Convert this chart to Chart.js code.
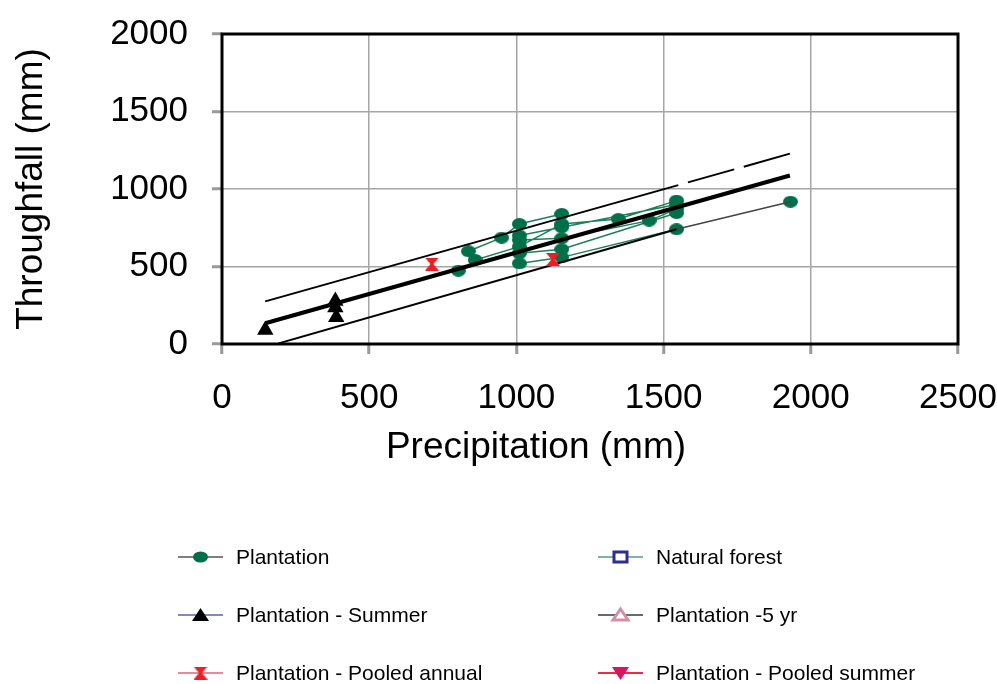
<!DOCTYPE html>
<html lang="en">
<head>
  <meta charset="UTF-8">
  <title>Throughfall vs Precipitation</title>
  <script src="https://cdn.jsdelivr.net/npm/chart.js"></script>
  <style>
    html, body { margin: 0; padding: 0; background: #fff; }
    #wrap { width: 997px; height: 684px; }
  </style>
</head>
<body>
  <div id="wrap"><canvas id="chart" width="997" height="684"></canvas></div>

  <script>
    // Plantation sites (null = break between sites)
    const plantationPrecip = [
      837, 950, 1010, 1154, null,
      860, 1010, 1154, 1346, 1544, null,
      1010, 1154, 1544, null,
      1010, 1154, 1451, 1544, null,
      1010, 1154, 1544, null,
      1010, 1154, 1544, null,
      803, null,
      1931
    ];
    const plantationThroughfall = [
      598, 686, 774, 839, null,
      542, 628, 774, 806, 925, null,
      700, 753, 900, null,
      671, 682, 796, 870, null,
      585, 611, 845, null,
      520, 559, 740, null,
      473, null,
      918
    ];

    // Plantation - Summer
    const summerPrecip = [147, 385, 385, 388];
    const summerThroughfall = [90, 277, 235, 173];

    // Plantation - Pooled annual
    const pooledPrecip = [713, 1124];
    const pooledThroughfall = [516, 546];

    // regression line and its bounds
    const fitPrecip = [147, 1929];
    const fitThroughfall = [134, 1087];
    const upperPrecip = [147, 1550, 1929];
    const upperThroughfall = [275, 1025, 1228];
    const lowerPrecip = [192, 1544, 1931];
    const lowerThroughfall = [4, 740, 918];

    const xTicks = [0, 500, 1000, 1500, 2000, 2500];
    const yTicks = [0, 500, 1000, 1500, 2000];

    const FONT = '"Liberation Sans", Arial, sans-serif';
    const GREEN = '#00704a';

    function pts(xs, ys) {
      return xs.map((x, i) => ({ x: x, y: ys[i] }));
    }

    // marker images
    function ellipseMarker(w, h, color) {
      const c = document.createElement('canvas');
      c.width = w; c.height = h;
      const g = c.getContext('2d');
      g.fillStyle = color;
      g.beginPath();
      g.ellipse(w / 2, h / 2, w / 2, h / 2, 0, 0, Math.PI * 2);
      g.fill();
      return c;
    }
    function hourglassMarker(w, h, color) {
      const c = document.createElement('canvas');
      c.width = w; c.height = h;
      const g = c.getContext('2d');
      g.fillStyle = color;
      g.beginPath();
      g.moveTo(0, 0); g.lineTo(w, 0); g.lineTo(w / 2 + 1.5, h / 2);
      g.lineTo(w, h); g.lineTo(0, h); g.lineTo(w / 2 - 1.5, h / 2);
      g.closePath();
      g.fill();
      return c;
    }

    const dotImg = ellipseMarker(15, 12, GREEN);
    const hourglassImg = hourglassMarker(14, 13, '#ee1c25');

    // legend drawn in two columns under the plot
    const legendPlugin = {
      id: 'sketchLegend',
      afterDraw(chart) {
        const ctx = chart.ctx;
        const cols = [178, 598];
        const rows = [557, 615, 673];
        const items = chart.data.datasets.filter(d => d.legend)
          .sort((a, b) => a.legend.slot - b.legend.slot);
        ctx.save();
        items.forEach((d, i) => {
          const x = cols[i % 2];
          const y = rows[Math.floor(i / 2)];
          ctx.strokeStyle = d.legend.line;
          ctx.lineWidth = 2;
          ctx.beginPath();
          ctx.moveTo(x, y); ctx.lineTo(x + 45, y);
          ctx.stroke();
          const mx = x + 22.5;
          const m = d.legend.marker;
          ctx.fillStyle = d.legend.color;
          ctx.strokeStyle = d.legend.color;
          ctx.lineWidth = 3;
          ctx.beginPath();
          if (m === 'ellipse') {
            ctx.ellipse(mx, y, 7.5, 5.5, 0, 0, Math.PI * 2);
            ctx.fill();
          } else if (m === 'square') {
            ctx.fillStyle = '#fff';
            ctx.rect(mx - 6.5, y - 5, 13, 10);
            ctx.fill(); ctx.stroke();
          } else if (m === 'triangle') {
            ctx.moveTo(mx, y - 7); ctx.lineTo(mx + 8.5, y + 6); ctx.lineTo(mx - 8.5, y + 6);
            ctx.closePath(); ctx.fill();
          } else if (m === 'openTriangle') {
            ctx.fillStyle = '#fff';
            ctx.moveTo(mx, y - 6); ctx.lineTo(mx + 7.5, y + 5); ctx.lineTo(mx - 7.5, y + 5);
            ctx.closePath(); ctx.fill(); ctx.stroke();
          } else if (m === 'hourglass') {
            ctx.drawImage(hourglassImg, mx - 7, y - 6.5);
          } else if (m === 'down') {
            ctx.moveTo(mx - 8.5, y - 6); ctx.lineTo(mx + 8.5, y - 6); ctx.lineTo(mx, y + 7);
            ctx.closePath(); ctx.fill();
          }
          ctx.fillStyle = '#000';
          ctx.font = '21px ' + FONT;
          ctx.textAlign = 'left';
          ctx.textBaseline = 'middle';
          ctx.fillText(d.label, x + 58, y + 1);
        });
        ctx.restore();
      }
    };

    // frame round the plot and the two axis titles
    const framePlugin = {
      id: 'frame',
      afterDatasetsDraw(chart) {
        const a = chart.chartArea;
        const ctx = chart.ctx;
        ctx.save();
        ctx.strokeStyle = '#000';
        ctx.lineWidth = 3;
        ctx.strokeRect(a.left, a.top, a.right - a.left, a.bottom - a.top);
        ctx.fillStyle = '#000';
        ctx.font = '37px ' + FONT;
        ctx.textAlign = 'center';
        ctx.textBaseline = 'alphabetic';
        ctx.fillText('Precipitation (mm)', 536, 458);
        ctx.translate(42, (a.top + a.bottom) / 2);
        ctx.rotate(-Math.PI / 2);
        ctx.fillText('Throughfall (mm)', 0, 0);
        ctx.restore();
      }
    };

    const plain = v => String(v);

    const ctx = document.getElementById('chart').getContext('2d');
    new Chart(ctx, {
      type: 'scatter',
      data: {
        datasets: [
          {
            label: 'Plantation - Summer',
            data: pts(summerPrecip, summerThroughfall),
            pointStyle: 'triangle',
            pointRadius: 9.5,
            backgroundColor: '#000',
            borderColor: '#000',
            borderWidth: 0,
            showLine: false,
            order: 1,
            legend: { slot: 2, line: '#8484cc', marker: 'triangle', color: '#000' }
          },
          {
            label: 'Plantation - Pooled annual',
            data: pts(pooledPrecip, pooledThroughfall),
            pointStyle: hourglassImg,
            pointRadius: 7,
            showLine: false,
            order: 1,
            legend: { slot: 4, line: '#e98a9c', marker: 'hourglass', color: '#ee1c25' }
          },
          {
            label: 'Natural forest',
            data: [],
            pointStyle: 'rect',
            backgroundColor: '#fff',
            borderColor: '#2b2f8f',
            order: 1,
            legend: { slot: 1, line: '#79b9a2', marker: 'square', color: '#2b2f8f' }
          },
          {
            label: 'Plantation -5 yr',
            data: [],
            pointStyle: 'triangle',
            backgroundColor: '#fff',
            borderColor: '#d48fa8',
            order: 1,
            legend: { slot: 3, line: '#6a6a6a', marker: 'openTriangle', color: '#d48fa8' }
          },
          {
            label: 'Plantation - Pooled summer',
            data: [],
            pointStyle: 'triangle',
            rotation: 180,
            backgroundColor: '#e0115f',
            order: 1,
            legend: { slot: 5, line: '#ee2a44', marker: 'down', color: '#e0115f' }
          },
          {
            label: 'Fit',
            data: pts(fitPrecip, fitThroughfall),
            showLine: true,
            borderColor: '#000',
            borderWidth: 4,
            pointRadius: 0,
            order: 2
          },
          {
            label: 'Upper',
            data: pts(upperPrecip, upperThroughfall),
            showLine: true,
            borderColor: '#000',
            borderWidth: 2,
            pointRadius: 0,
            order: 2,
            segment: {
              borderDash: c => c.p0DataIndex === 1 ? [48, 10] : undefined,
              borderDashOffset: c => c.p0DataIndex === 1 ? 48 : 0
            }
          },
          {
            label: 'Lower',
            data: pts(lowerPrecip, lowerThroughfall),
            showLine: true,
            borderColor: '#000',
            borderWidth: 2,
            pointRadius: 0,
            order: 2,
            segment: {
              borderWidth: c => c.p0DataIndex === 1 ? 1.5 : 2,
              borderColor: c => c.p0DataIndex === 1 ? '#444' : '#000'
            }
          },
          {
            label: 'Plantation',
            data: pts(plantationPrecip, plantationThroughfall),
            showLine: true,
            spanGaps: false,
            borderColor: '#1d8059',
            borderWidth: 1.5,
            pointStyle: dotImg,
            pointRadius: 6,
            order: 3,
            legend: { slot: 0, line: '#7f7f7f', marker: 'ellipse', color: GREEN }
          }
        ]
      },
      options: {
        responsive: false,
        animation: false,
        layout: { padding: { left: 0, top: 34, right: 39, bottom: 0 } },
        plugins: {
          legend: { display: false },
          tooltip: { enabled: false }
        },
        scales: {
          x: {
            type: 'linear',
            min: 0,
            max: 2500,
            afterFit: s => { s.height = 340; s.paddingLeft = 0; s.paddingRight = 0; },
            afterBuildTicks: s => { s.ticks = xTicks.map(v => ({ value: v })); },
            ticks: {
              color: '#000',
              padding: 23,
              callback: plain,
              font: { family: FONT, size: 35 }
            },
            grid: {
              color: '#a6a6a6',
              lineWidth: 1.5,
              tickLength: 10,
              tickColor: '#999',
              tickWidth: 3
            },
            border: { display: false }
          },
          y: {
            type: 'linear',
            min: 0,
            max: 2000,
            afterFit: s => { s.width = 222; s.paddingTop = 0; s.paddingBottom = 0; },
            afterBuildTicks: s => { s.ticks = yTicks.map(v => ({ value: v })); },
            ticks: {
              color: '#000',
              padding: 24,
              callback: plain,
              font: { family: FONT, size: 35 }
            },
            grid: {
              color: '#a6a6a6',
              lineWidth: 1.5,
              tickLength: 10,
              tickColor: '#999',
              tickWidth: 3
            },
            border: { display: false }
          }
        }
      },
      plugins: [framePlugin, legendPlugin]
    });
  </script>
</body>
</html>
